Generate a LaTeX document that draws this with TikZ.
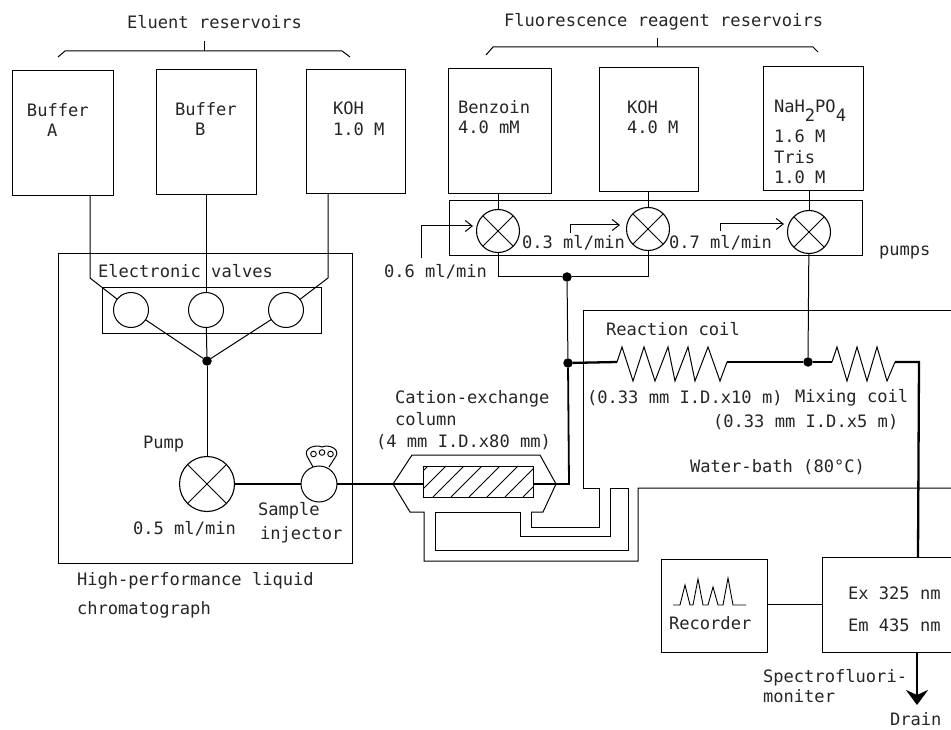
\documentclass[tikz,border=0pt]{standalone}
\usepackage{fontspec}
\usetikzlibrary{arrows.meta}
\newfontfamily\monofam{DejaVu Sans Mono}
\tikzset{
  txt/.style={anchor=base west,inner sep=0pt,outer sep=0pt,text=black!85,font=\monofam\fontsize{17.1}{20}\selectfont},
  thinl/.style={draw=black,line width=1pt,line join=miter},
  heavy/.style={draw=black,line width=2.3pt,line join=miter},
  res/.style={draw=black,line width=1pt,inner sep=0pt,outer sep=0pt},
  valve/.style={circle,draw=black,line width=1pt,fill=white,inner sep=0pt,outer sep=0pt,minimum size=35pt},
  pumpx/.style={circle,draw=black,line width=1.1pt,fill=white,inner sep=0pt,outer sep=0pt,minimum size=#1,
    path picture={\draw[black,line width=1pt] (path picture bounding box.north west)--(path picture bounding box.south east)
      (path picture bounding box.north east)--(path picture bounding box.south west);}},
  junction/.style={circle,fill=black,inner sep=0pt,outer sep=0pt,minimum size=9.5pt},
  openarrow/.style={-{Straight Barb[length=7pt,width=11pt,line width=1pt]}},
}
\begin{document}
\begin{tikzpicture}[x=1pt,y=-1pt]
\useasboundingbox (0,0) rectangle (951,730);
\fill[white] (0,0) rectangle (951,730);

% boxes
\node[res,minimum width=101pt,minimum height=125pt] (bufa) at (62.5,133.5) {};
\node[res,minimum width=100pt,minimum height=125pt] (bufb) at (206,132.5) {};
\node[res,minimum width=99pt,minimum height=124pt] (koh1) at (355.5,132) {};
\node[res,minimum width=103pt,minimum height=125pt] (benz) at (499.5,131.5) {};
\node[res,minimum width=99pt,minimum height=124pt] (koh4) at (648.5,130) {};
\node[res,minimum width=100pt,minimum height=124pt] (nah) at (813,129) {};
\node[res,minimum width=413pt,minimum height=55pt] (pumpbox) at (655.5,228.5) {};
\node[res,minimum width=294pt,minimum height=309pt] (hplc) at (205,408.5) {};
\node[res,minimum width=219pt,minimum height=45pt] (valvebox) at (211.5,310.5) {};
\node[res,minimum width=106pt,minimum height=93pt] (recorder) at (714,605.5) {};

% valves, pumps, junctions
\node[valve] (v1) at (131,310) {};
\node[valve] (v2) at (206,310) {};
\node[valve] (v3) at (286,310) {};
\node[junction] (j1) at (207,361) {};
\node[pumpx=55pt] (hp) at (207,484) {};
\node[valve,minimum size=36pt] (inj) at (319,484) {};
\node[pumpx=43pt] (p1) at (498,231) {};
\node[pumpx=43pt] (p2) at (648,229) {};
\node[pumpx=43pt] (p3) at (809,232) {};
\node[junction] (j2) at (567,277) {};
\node[junction] (j3) at (568,363) {};
\node[junction] (j4) at (808,362) {};

\coordinate (a1) at (90,278);
\coordinate (a3) at (328,278);

% eluent lines
\draw[thinl] (bufa.south -| a1) -- (a1) -- (v1);
\draw[thinl] (bufb.south -| v2) -- (v2);
\draw[thinl] (koh1.south -| a3) -- (a3) -- (v3);
\draw[thinl] (v1) -- (j1);
\draw[thinl] (v2) -- (j1);
\draw[thinl] (v3) -- (j1);
\draw[thinl] (j1) -- (hp);
\draw[heavy] (hp) -- (inj);

% braces
\coordinate (eb) at (204,51);
\coordinate (fb) at (657,47);
\draw[thinl] (58,57) -- (65,51) -- (342,51) -- (350,57);
\draw[thinl] (eb) -- (204,41);
\draw[thinl] (486,55) -- (493,47) -- (813,47) -- (818,52);
\draw[thinl] (fb) -- (657,38);

% reagent lines
\draw[thinl] (benz.south -| p1) -- (p1);
\draw[thinl] (koh4.south -| p2) -- (p2);
\draw[thinl] (nah.south -| p3) -- (p3);
\coordinate (b1) at (498,277);
\coordinate (b2) at (648,277);
\draw[thinl] (p1) -- (b1) -- (j2) -- (b2) -- (p2);
\draw[thinl] (j2) -- (j3);
\draw[thinl] (p3) -- (j4);

% flow arrows
\coordinate (f1) at (421,258); \coordinate (f1b) at (421,226);
\coordinate (f2) at (570,233); \coordinate (f2b) at (570,225);
\coordinate (f3) at (720,231); \coordinate (f3b) at (720,224);
\draw[thinl,openarrow] (f1) -- (f1b) -- (473,226);
\draw[thinl,openarrow] (f2) -- (f2b) -- (620,225);
\draw[thinl,openarrow] (f3) -- (f3b) -- (784,224);

% injector knob
\draw[thinl] (313,467) -- (307,456) .. controls (303,448) and (316,444) .. (322,447)
  .. controls (329,444) and (340,449) .. (336,456) -- (329,467);
\draw[thinl,line width=.9pt] (313.5,454) circle (2.8pt) (322,452.5) circle (2.8pt) (330.5,454) circle (2.8pt);

% column
\coordinate (cL) at (393,484);
\coordinate (cR) at (556,484);
\begin{scope}
\clip (423,466) rectangle (533,497);
\foreach \x in {397,415,...,547} \draw[black,line width=.9pt] (\x,497) -- (\x+31,466);
\end{scope}
\node[res,minimum width=110pt,minimum height=31pt] (hatch) at (478,481.5) {};
\draw[thinl] (cL) -- (412,455) -- (540,455) -- (cR) -- (543,512) -- (531,512);
\draw[thinl] (cL) -- (410,512) -- (424,512) -- (424,561) -- (638,561) -- (638,488) -- (951,488);
\draw[thinl] (531,512) -- (531,527) -- (599,527) -- (599,488) -- (583,488) -- (583,310) -- (951,310);
\draw[thinl] (435,512) -- (520,512) -- (520,536) -- (610,536) -- (610,488) -- (628,488) -- (628,550) -- (435,550) -- cycle;
\draw[heavy] (inj) -- (hatch.west |- cL);
\draw[heavy] (hatch.east |- cR) -- (cR);
\draw[heavy,line width=1.8pt] (cR) -- (569,484) -- (j3);

% coils
\coordinate (cc) at (727,362);
\coordinate (mm) at (895,362);
\coordinate (tt) at (919,362);
\draw[thinl] (617,362) -- (622,347) -- (633,381) -- (644,347) -- (655,381) -- (668,347) -- (675,381) -- (688,347) -- (695,381) -- (708,347) -- (720,381) -- (cc);
\draw[thinl] (832,362) -- (837,347) -- (847,381) -- (857,347) -- (867,381) -- (877,347) -- (887,381) -- (mm);
\draw[heavy] (j3) -- (617,362);
\draw[heavy] (cc) -- (j4) -- (832,362);
\draw[heavy] (mm) -- (tt) -- (918,557);

% spectrofluorimeter
\coordinate (s1) at (951,557);
\coordinate (s2) at (951,652);
\draw[res] (s1) -- (822,557) -- (822,652) -- (s2);
\draw[thinl] (recorder.east |- 0,604) -- (822,604);
\draw[heavy,-{Stealth[length=15pt,width=22pt,inset=5pt]}] (917,652) -- (917,705);
\draw[thinl,line width=.9pt] (673,605) -- (680,605) -- (685,585) -- (690,605) -- (693,605) -- (698,579) -- (703,605) -- (708,605) -- (713,587) -- (718,605) -- (723,605) -- (728,578) -- (733,605) -- (746,605);

% text
\node[txt] (t1) at (127,29) {Eluent reservoirs};
\node[txt] (t2) at (504,27) {Fluorescence reagent reservoirs};
\node[txt] (t3) at (27,117) {Buffer};
\node[txt] (t4) at (47,137) {A};
\node[txt] (t5) at (175,116) {Buffer};
\node[txt] (t6) at (195,136) {B};
\node[txt] (t7) at (333,115) {KOH};
\node[txt] (t8) at (333,136) {1.0 M};
\node[txt] (t9) at (458,114) {Benzoin};
\node[txt] (t10) at (458,134) {4.0 mM};
\node[txt] (t11) at (627,114) {KOH};
\node[txt] (t12) at (627,134) {4.0 M};
\node[txt] (t13) at (774,113) {NaH\raisebox{-9pt}{2}PO\raisebox{-9pt}{4}};
\node[txt] (t14) at (774,143) {1.6 M};
\node[txt] (t15) at (774,164) {Tris};
\node[txt] (t16) at (774,184) {1.0 M};
\node[txt] (t17) at (384,277) {0.6 ml/min};
\node[txt] (t18) at (522,249) {0.3 ml/min};
\node[txt] (t19) at (669,249) {0.7 ml/min};
\node[txt] (t20) at (879,256) {pumps};
\node[txt] (t21) at (98,278) {Electronic valves};
\node[txt] (t22) at (143,448) {Pump};
\node[txt] (t23) at (133,534) {0.5 ml/min};
\node[txt] (t24) at (258,515) {Sample};
\node[txt] (t25) at (260,539) {injector};
\node[txt] (t26) at (77,585) {High-performance liquid};
\node[txt] (t27) at (77,614) {chromatograph};
\node[txt] (t28) at (606,335) {Reaction coil};
\node[txt] (t29) at (587,403) {(0.33 mm I.D.x10 m)};
\node[txt] (t30) at (795,402) {Mixing coil};
\node[txt] (t31) at (713,427) {(0.33 mm I.D.x5 m)};
\node[txt] (t32) at (690,472) {Water-bath (80°C)};
\node[txt] (t33) at (395,403) {Cation-exchange};
\node[txt] (t34) at (395,425) {column};
\node[txt] (t35) at (376,447) {(4 mm I.D.x80 mm)};
\node[txt] (t36) at (848,599) {Ex 325 nm};
\node[txt] (t37) at (848,631) {Em 435 nm};
\node[txt] (t38) at (669,629) {Recorder};
\node[txt] (t39) at (763,682) {Spectrofluori-};
\node[txt] (t40) at (763,702) {moniter};
\node[txt] (t41) at (890,725) {Drain};
\end{tikzpicture}
\end{document}
